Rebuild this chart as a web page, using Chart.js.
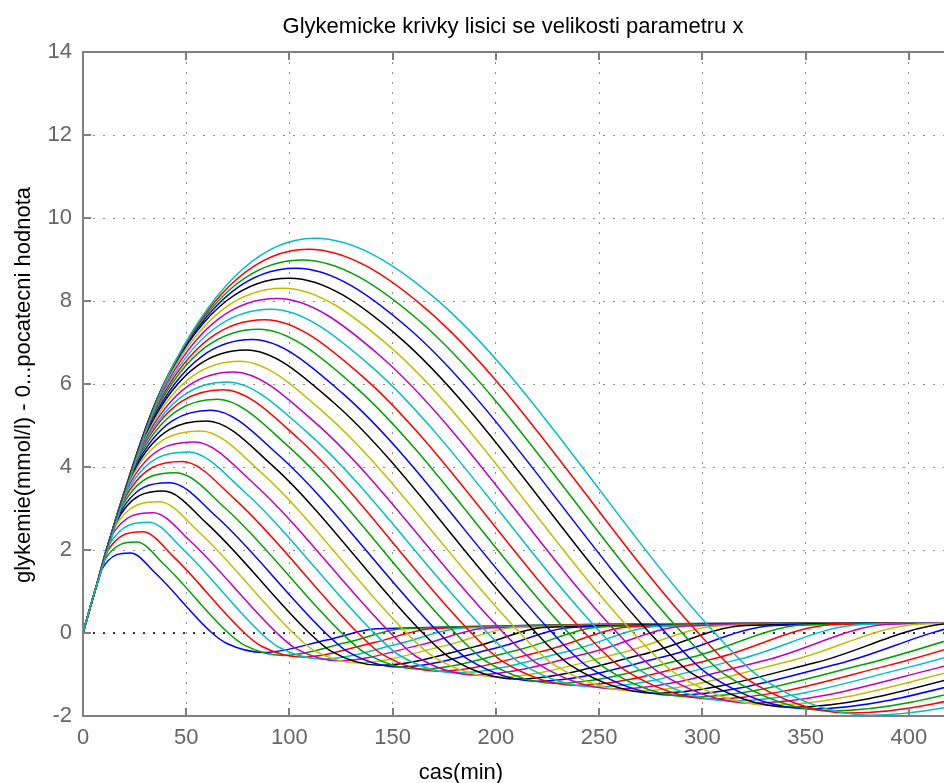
<!DOCTYPE html>
<html>
<head>
<meta charset="utf-8">
<script src="https://cdn.jsdelivr.net/npm/chart.js@4.4.0/dist/chart.umd.min.js"></script>
<style>
  html, body { margin: 0; padding: 0; background: #fff; }
  #wrap { width: 944px; height: 783px; }
</style>
</head>
<body>
<div id="wrap"><canvas id="chart" width="944" height="783"></canvas></div>
<script>
// texty grafu
const chartTitle = "Glykemicke krivky lisici se velikosti parametru x";
const xTitle = "cas(min)";
const yTitle = "glykemie(mmol/l) - 0...pocatecni hodnota";

// osy
const xTicks = [0, 50, 100, 150, 200, 250, 300, 350, 400];
const yTicks = [-2, 0, 2, 4, 6, 8, 10, 12, 14];

// barvy v poradi jako v matlabu (b g r c m y k)
const curveColors = ["#0000ff", "#00a000", "#ff0000", "#00bfbf", "#bf00bf", "#bfbf00", "#000000"];

// spolecny zacatek vsech krivek
const earlyTime = 6;
const earlyValue = 1.05;

// 32 krivek, odectene body (cas v min, glykemie)
const riseTime  = [9.2, 10.4, 11.6, 12.8, 13.6, 14.8, 15.6, 16.8, 18, 19.2, 20.4, 21.6, 22.8, 24, 24.8, 26, 27.2, 28, 29.2, 30.4, 31.6, 32.8, 34, 35.2, 36.4, 37.6, 38.8, 40, 41.2, 42.4, 43.6, 44.8];
const riseValue = [1.54, 1.75, 1.95, 2.14, 2.32, 2.50, 2.62, 2.79, 2.97, 3.15, 3.32, 3.50, 3.68, 3.85, 3.97, 4.14, 4.31, 4.42, 4.58, 4.75, 4.92, 5.08, 5.25, 5.42, 5.58, 5.75, 5.92, 6.08, 6.20, 6.33, 6.45, 6.56];
const peakTime  = [23, 26, 29, 32, 34, 37, 39, 42, 45, 48, 51, 54, 57, 60, 62, 65, 68, 70, 73, 76, 79, 82, 85, 88, 91, 94, 97, 100, 103, 106, 109, 112];
const peakValue = [1.93, 2.19, 2.44, 2.67, 2.90, 3.16, 3.42, 3.62, 3.86, 4.13, 4.36, 4.60, 4.87, 5.11, 5.37, 5.63, 5.86, 6.05, 6.29, 6.55, 6.82, 7.07, 7.32, 7.55, 7.80, 8.06, 8.31, 8.55, 8.79, 8.99, 9.25, 9.51];
const fallTime  = [34.9, 39.3, 43.8, 48.2, 52.0, 56.4, 60.2, 64.7, 69.1, 73.6, 78.0, 82.5, 86.9, 91.4, 95.1, 99.6, 104.0, 107.8, 112.2, 116.7, 121.2, 125.6, 130.1, 134.5, 139.0, 143.4, 147.9, 152.4, 156.8, 161.3, 165.7, 170.2];
const fallValue = [1.45, 1.65, 1.84, 2.03, 2.21, 2.42, 2.63, 2.80, 3.00, 3.22, 3.41, 3.61, 3.84, 4.05, 4.27, 4.49, 4.70, 4.87, 5.08, 5.31, 5.56, 5.78, 6.01, 6.22, 6.45, 6.70, 6.93, 7.16, 7.38, 7.59, 7.83, 8.08];
const zeroTime  = [62.5, 70.4, 78.2, 86.1, 93.9, 101.8, 109.6, 117.5, 125.3, 133.2, 141, 148.9, 156.7, 164.6, 172.4, 180.3, 188.1, 196, 203.8, 211.7, 219.5, 227.4, 235.2, 243.1, 250.9, 258.8, 266.6, 274.5, 282.3, 290.2, 298, 306];
const dipTime   = [70.0, 78.4, 86.5, 95.1, 102.9, 111.2, 119.9, 128.2, 136.6, 144.8, 153, 161.2, 170.0, 178.2, 186.7, 194.9, 203.4, 211.6, 220.1, 228.3, 236.8, 245.0, 253.1, 261.7, 269.8, 278.4, 286.5, 295.1, 303.2, 311.7, 319.9, 328.5];
const dipValue  = [-0.26, -0.30, -0.32, -0.35, -0.37, -0.40, -0.43, -0.45, -0.48, -0.51, -0.53, -0.56, -0.58, -0.61, -0.64, -0.67, -0.69, -0.72, -0.74, -0.77, -0.80, -0.83, -0.85, -0.87, -0.90, -0.93, -0.96, -0.98, -1.01, -1.03, -1.06, -1.09];
const minTime   = [87.5, 97, 106, 116, 124, 133, 144, 153, 163, 172, 181, 190, 201, 210, 220, 229, 239, 248, 258, 267, 277, 286, 295, 305, 314, 324, 333, 343, 352, 362, 371, 381];
const minValue  = [-0.47, -0.54, -0.58, -0.63, -0.67, -0.72, -0.78, -0.82, -0.87, -0.92, -0.96, -1.01, -1.06, -1.11, -1.16, -1.21, -1.26, -1.30, -1.35, -1.40, -1.45, -1.50, -1.54, -1.59, -1.64, -1.69, -1.74, -1.79, -1.83, -1.88, -1.93, -1.98];
const recTime   = [118, 129, 141, 153, 164, 175, 189, 200, 212, 224, 235, 246, 260, 271, 283, 295, 307, 318, 331, 342, 355, 366, 378, 390, 401, 414, 425, 437, 448, 461, 472, 484];
const recValue  = [-0.17, -0.21, -0.23, -0.26, -0.28, -0.31, -0.34, -0.36, -0.39, -0.42, -0.44, -0.47, -0.49, -0.52, -0.55, -0.58, -0.60, -0.63, -0.65, -0.68, -0.71, -0.74, -0.76, -0.78, -0.81, -0.84, -0.87, -0.89, -0.92, -0.94, -0.97, -0.99];
const flatTime  = [142.5, 156, 170, 184, 196, 210, 225, 238, 252, 266, 279, 292, 308, 321, 335, 349, 363, 376, 390, 404, 418, 431, 445, 459, 472, 487, 500, 514, 527, 542, 555, 569];
const flatValue = [0.10, 0.11, 0.11, 0.12, 0.12, 0.13, 0.14, 0.14, 0.15, 0.15, 0.16, 0.17, 0.17, 0.18, 0.18, 0.19, 0.20, 0.20, 0.21, 0.21, 0.22, 0.23, 0.23, 0.24, 0.24, 0.25, 0.26, 0.26, 0.27, 0.27, 0.28, 0.29];
const endTime = 440;
const endValue = 0.25;

const FONT = "'Liberation Sans', Arial, sans-serif";

// sestaveni bodu pro kazdou krivku
const datasets = peakTime.map((tp, i) => {
    const pts = [
        { x: 0, y: 0 },
        { x: earlyTime, y: earlyValue },
        { x: riseTime[i], y: riseValue[i] },
        { x: tp, y: peakValue[i] },
        { x: fallTime[i], y: fallValue[i] },
        { x: zeroTime[i], y: 0 },
        { x: dipTime[i], y: dipValue[i] },
        { x: minTime[i], y: minValue[i] },
        { x: recTime[i], y: recValue[i] },
        { x: flatTime[i], y: flatValue[i] }
    ];
    if (flatTime[i] < endTime) pts.push({ x: endTime, y: endValue });
    return {
        data: pts,
        borderColor: curveColors[i % 7],
        borderWidth: 1.5,
        pointRadius: 0,
        fill: false,
        cubicInterpolationMode: "monotone",
        order: 40 - i
    };
});

// nulova cara (cerna teckovana)
datasets.push({
    data: [{ x: 0, y: 0 }, { x: 420, y: 0 }],
    borderColor: "#000000",
    borderWidth: 1.5,
    borderDash: [2, 8],
    pointRadius: 0,
    order: 100
});

// ramecek os, tick znacky dovnitr a texty jako v matlabu
const matlabAxes = {
    id: "matlabAxes",
    afterDatasetsDraw(chart) {
        const { ctx, chartArea: a, scales } = chart;
        ctx.save();
        ctx.strokeStyle = "#808080";
        ctx.lineWidth = 2;
        ctx.beginPath();
        ctx.moveTo(a.right + 2, a.top);
        ctx.lineTo(a.left, a.top);
        ctx.lineTo(a.left, a.bottom);
        ctx.lineTo(a.right + 2, a.bottom);
        ctx.stroke();

        ctx.beginPath();
        xTicks.forEach(v => {
            const px = Math.round(scales.x.getPixelForValue(v));
            ctx.moveTo(px, a.bottom); ctx.lineTo(px, a.bottom - 8);
            ctx.moveTo(px, a.top); ctx.lineTo(px, a.top + 8);
        });
        yTicks.forEach(v => {
            const py = Math.round(scales.y.getPixelForValue(v));
            ctx.moveTo(a.left, py); ctx.lineTo(a.left + 8, py);
        });
        ctx.stroke();
        ctx.restore();
    },
    afterDraw(chart) {
        const { ctx } = chart;
        ctx.save();
        ctx.fillStyle = "#000000";
        ctx.font = "22px " + FONT;
        ctx.textAlign = "center";
        ctx.textBaseline = "alphabetic";
        ctx.fillText(chartTitle, 513, 33);
        ctx.fillText(xTitle, 461, 779);
        ctx.translate(30, 385);
        ctx.rotate(-Math.PI / 2);
        ctx.fillText(yTitle, 0, 0);
        ctx.restore();
    }
};

new Chart(document.getElementById("chart"), {
    type: "line",
    data: { datasets },
    plugins: [matlabAxes],
    options: {
        responsive: false,
        animation: false,
        events: [],
        layout: { padding: { top: 52, right: 0, bottom: 0, left: 0 } },
        plugins: {
            legend: { display: false },
            tooltip: { enabled: false },
            title: { display: false }
        },
        scales: {
            x: {
                type: "linear",
                min: 0,
                max: 417,
                afterFit: (s) => { s.height = 67; },
                ticks: {
                    stepSize: 50,
                    includeBounds: false,
                    color: "#666666",
                    font: { size: 22, family: FONT },
                    padding: 9,
                    maxRotation: 0
                },
                grid: { color: "#8c8c8c", lineWidth: 1, drawTicks: false },
                border: { display: false, dash: [2, 8] }
            },
            y: {
                type: "linear",
                min: -2,
                max: 14,
                afterFit: (s) => { s.width = 83; },
                ticks: {
                    stepSize: 2,
                    color: "#666666",
                    font: { size: 22, family: FONT },
                    padding: 11
                },
                grid: { color: "#8c8c8c", lineWidth: 1, drawTicks: false },
                border: { display: false, dash: [2, 8] }
            }
        }
    }
});
</script>
</body>
</html>
